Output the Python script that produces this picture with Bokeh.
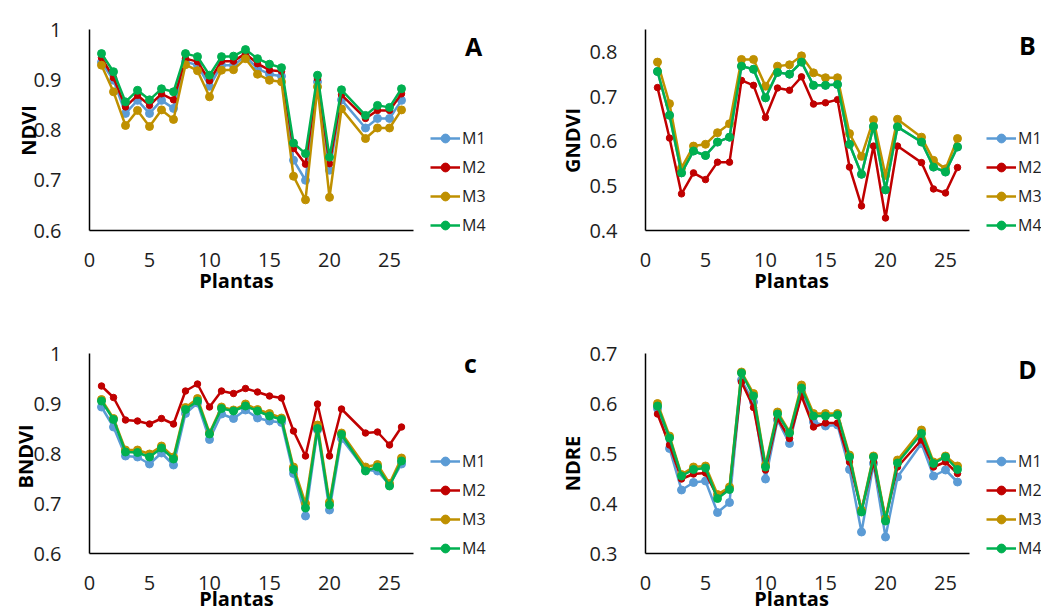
import math
from bokeh.plotting import figure
from bokeh.models import (Range1d, FixedTicker, CustomJSTickFormatter, Label,
                          Legend, LegendItem)
from bokeh.layouts import column, row
from bokeh.embed import file_html
from bokeh.resources import INLINE

FONT = "Open Sans"

plantas = [1, 2, 3, 4, 5, 6, 7, 8, 9, 10, 11, 12, 13, 14, 15, 16, 17, 18, 19, 20, 21, 23, 24, 25, 26]
series_names = ["M1", "M2", "M3", "M4"]
colors = ["#5B9BD5", "#C00000", "#BF9000", "#00B050"]
x_ticks = [0, 5, 10, 15, 20, 25]

ndvi_m1 = [0.935, 0.899, 0.833, 0.859, 0.833, 0.859, 0.843, 0.936, 0.929, 0.887, 0.929, 0.929, 0.947, 0.922, 0.911, 0.907, 0.740, 0.700, 0.896, 0.720, 0.860, 0.804, 0.823, 0.823, 0.859]
ndvi_m2 = [0.944, 0.904, 0.846, 0.869, 0.849, 0.872, 0.860, 0.942, 0.936, 0.898, 0.937, 0.937, 0.952, 0.932, 0.919, 0.917, 0.763, 0.732, 0.902, 0.733, 0.870, 0.823, 0.839, 0.839, 0.872]
ndvi_m3 = [0.929, 0.876, 0.809, 0.839, 0.807, 0.840, 0.821, 0.930, 0.918, 0.866, 0.919, 0.920, 0.942, 0.911, 0.899, 0.896, 0.708, 0.661, 0.886, 0.666, 0.842, 0.783, 0.804, 0.804, 0.840]
ndvi_m4 = [0.952, 0.916, 0.856, 0.879, 0.860, 0.882, 0.876, 0.952, 0.946, 0.909, 0.946, 0.947, 0.960, 0.942, 0.931, 0.924, 0.774, 0.753, 0.909, 0.746, 0.880, 0.829, 0.849, 0.845, 0.882]

gndvi_m1 = [0.756, 0.658, 0.529, 0.578, 0.568, 0.598, 0.609, 0.768, 0.761, 0.697, 0.754, 0.750, 0.777, 0.725, 0.725, 0.727, 0.593, 0.526, 0.633, 0.491, 0.632, 0.598, 0.542, 0.531, 0.587]
gndvi_m2 = [0.720, 0.607, 0.482, 0.529, 0.514, 0.553, 0.553, 0.736, 0.725, 0.653, 0.719, 0.714, 0.744, 0.683, 0.686, 0.693, 0.542, 0.455, 0.589, 0.428, 0.589, 0.552, 0.493, 0.484, 0.541]
gndvi_m3 = [0.777, 0.684, 0.540, 0.589, 0.593, 0.619, 0.639, 0.783, 0.783, 0.723, 0.768, 0.771, 0.791, 0.753, 0.742, 0.742, 0.617, 0.566, 0.648, 0.523, 0.649, 0.609, 0.557, 0.538, 0.606]
gndvi_m4 = [0.756, 0.658, 0.529, 0.578, 0.568, 0.598, 0.609, 0.768, 0.761, 0.697, 0.754, 0.750, 0.777, 0.725, 0.725, 0.727, 0.593, 0.526, 0.633, 0.491, 0.632, 0.598, 0.542, 0.531, 0.587]

bndvi_m1 = [0.893, 0.853, 0.795, 0.793, 0.779, 0.801, 0.777, 0.880, 0.901, 0.828, 0.879, 0.870, 0.887, 0.871, 0.865, 0.862, 0.760, 0.675, 0.847, 0.687, 0.830, 0.767, 0.765, 0.737, 0.779]
bndvi_m2 = [0.935, 0.912, 0.867, 0.865, 0.859, 0.870, 0.859, 0.925, 0.939, 0.893, 0.925, 0.920, 0.930, 0.923, 0.915, 0.911, 0.845, 0.795, 0.899, 0.795, 0.889, 0.841, 0.843, 0.817, 0.853]
bndvi_m3 = [0.908, 0.870, 0.807, 0.807, 0.799, 0.815, 0.793, 0.892, 0.910, 0.841, 0.893, 0.887, 0.899, 0.888, 0.880, 0.871, 0.773, 0.700, 0.857, 0.703, 0.841, 0.773, 0.778, 0.740, 0.791]
bndvi_m4 = [0.905, 0.868, 0.803, 0.802, 0.793, 0.811, 0.789, 0.888, 0.905, 0.839, 0.890, 0.885, 0.895, 0.885, 0.875, 0.868, 0.768, 0.691, 0.850, 0.697, 0.838, 0.765, 0.773, 0.735, 0.785]

ndre_m1 = [0.590, 0.510, 0.427, 0.442, 0.445, 0.382, 0.402, 0.647, 0.603, 0.449, 0.567, 0.520, 0.623, 0.563, 0.555, 0.557, 0.468, 0.343, 0.480, 0.333, 0.453, 0.520, 0.455, 0.467, 0.443]
ndre_m2 = [0.579, 0.517, 0.449, 0.459, 0.461, 0.413, 0.430, 0.643, 0.592, 0.467, 0.570, 0.530, 0.615, 0.553, 0.561, 0.561, 0.483, 0.387, 0.483, 0.370, 0.473, 0.527, 0.473, 0.483, 0.460]
ndre_m3 = [0.600, 0.535, 0.458, 0.473, 0.475, 0.418, 0.433, 0.663, 0.620, 0.477, 0.583, 0.543, 0.637, 0.580, 0.580, 0.580, 0.497, 0.387, 0.495, 0.370, 0.487, 0.547, 0.483, 0.495, 0.475]
ndre_m4 = [0.595, 0.531, 0.455, 0.468, 0.471, 0.410, 0.428, 0.661, 0.615, 0.473, 0.579, 0.541, 0.631, 0.575, 0.575, 0.577, 0.493, 0.383, 0.493, 0.365, 0.481, 0.540, 0.480, 0.493, 0.468]


def make_panel(width, height, xr, yr, ylo, yhi, yticks, data, ylabel, ylab_xy,
               xlab_xy, letter, letter_xy, legend_loc):
    p = figure(width=width, height=height, x_range=Range1d(*xr), y_range=Range1d(*yr),
               output_backend="svg", toolbar_location=None,
               min_border_left=0, min_border_right=0, min_border_top=0,
               min_border_bottom=0)
    p.outline_line_color = None
    p.grid.visible = False
    p.background_fill_color = "white"
    p.border_fill_color = "white"

    for ax in (p.xaxis[0], p.yaxis[0]):
        ax.axis_line_width = 1.5
        ax.axis_line_color = "black"
        ax.major_tick_line_color = None
        ax.minor_tick_line_color = None
        ax.major_tick_out = 0
        ax.major_tick_in = 0
        ax.minor_tick_out = 0
        ax.minor_tick_in = 0
        ax.major_label_text_font = FONT
        ax.major_label_text_font_size = "20px"
        ax.major_label_text_color = "#1e1e1e"
    p.xaxis.fixed_location = ylo
    p.xaxis.ticker = FixedTicker(ticks=x_ticks)
    p.xaxis.bounds = (0, 27)
    p.xaxis.major_label_standoff = 22
    p.yaxis.fixed_location = 0
    p.yaxis.ticker = FixedTicker(ticks=yticks)
    p.yaxis.bounds = (ylo, yhi)
    p.yaxis.formatter = CustomJSTickFormatter(code="return String(Math.round(tick*10)/10)")
    p.yaxis.major_label_standoff = 28

    items = []
    for name, col, vals in zip(series_names, colors, data):
        lr = p.line(plantas, vals, line_color=col, line_width=2.5)
        sr = p.scatter(plantas, vals, size=(6.5 if name == "M2" else 8),
                       fill_color=col, line_color=col)
        items.append(LegendItem(label=name, renderers=[lr, sr]))

    leg = Legend(items=items, location=legend_loc, glyph_width=30, glyph_height=22,
                 label_height=22, spacing=7, padding=0, margin=0, label_standoff=2,
                 border_line_color=None, background_fill_alpha=0,
                 label_text_font=FONT, label_text_font_size="16px",
                 label_text_color="#1e1e1e")
    p.add_layout(leg)

    p.add_layout(Label(x=ylab_xy[0], y=ylab_xy[1], text=ylabel, angle=math.pi / 2,
                       text_align="center", text_baseline="middle", text_font=FONT,
                       text_font_style="bold", text_font_size="20px",
                       text_color="black"))
    p.add_layout(Label(x=xlab_xy[0], y=xlab_xy[1], text="Plantas",
                       text_align="center", text_baseline="alphabetic", text_font=FONT,
                       text_font_style="bold", text_font_size="20px",
                       text_color="black"))
    p.add_layout(Label(x=letter_xy[0], y=letter_xy[1], text=letter,
                       text_align="center", text_baseline="alphabetic", text_font=FONT,
                       text_font_style="bold", text_font_size="25px",
                       text_color="black"))
    return p


# Panel geometry: x data -> px = axis_px + 12 * x ; y ranges chosen so that plot
# areas sit where they do in the reference.
pA = make_panel(521, 306, (-89 / 12, 432 / 12), (0.6 - 76 * 0.4 / 201, 1.0 + 29 * 0.4 / 201),
                0.6, 1.0, [0.6, 0.7, 0.8, 0.9, 1.0], [ndvi_m1, ndvi_m2, ndvi_m3, ndvi_m4],
                "NDVI", (-5.08, 0.799), (12.25, 0.5005), "A", (32.0, 0.968), (430, 70))
pB = make_panel(520, 306, (-124 / 12, 396 / 12), (0.4 - 76 * 0.45 / 201, 0.85 + 29 * 0.45 / 201),
                0.4, 0.85, [0.4, 0.5, 0.6, 0.7, 0.8], [gndvi_m1, gndvi_m2, gndvi_m3, gndvi_m4],
                "GNDVI", (-6.08, 0.6015), (12.17, 0.288), "B", (31.83, 0.8142), (465, 70))
pC = make_panel(521, 307, (-89 / 12, 432 / 12), (0.6 - 60 * 0.002, 1.0 + 47 * 0.002),
                0.6, 1.0, [0.6, 0.7, 0.8, 0.9, 1.0], [bndvi_m1, bndvi_m2, bndvi_m3, bndvi_m4],
                "BNDVI", (-5.33, 0.794), (12.25, 0.510), "c", (31.75, 0.982), (430, 54))
pD = make_panel(520, 307, (-124 / 12, 396 / 12), (0.3 - 60 * 0.002, 0.7 + 47 * 0.002),
                0.3, 0.7, [0.3, 0.4, 0.5, 0.6, 0.7], [ndre_m1, ndre_m2, ndre_m3, ndre_m4],
                "NDRE", (-6.08, 0.48), (12.17, 0.210), "D", (31.83, 0.67), (465, 54))

layout = column(row(pA, pB), row(pC, pD))
open("out.html", "w").write(file_html(layout, INLINE))
